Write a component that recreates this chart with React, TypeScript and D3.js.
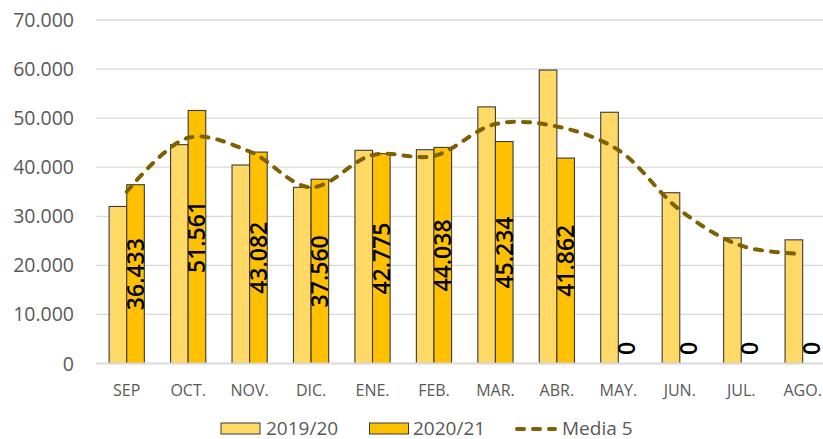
import React from "react";
import * as d3 from "d3";

const months = ["SEP", "OCT.", "NOV.", "DIC.", "ENE.", "FEB.", "MAR.", "ABR.", "MAY.", "JUN.", "JUL.", "AGO."];
const s2019 = [32000, 44600, 40450, 35900, 43450, 43570, 52300, 59800, 51200, 34800, 25600, 25200];
const s2020 = [36433, 51561, 43082, 37560, 42775, 44038, 45234, 41862, 0, 0, 0, 0];
const media5 = [35000, 46000, 43200, 35900, 42500, 42300, 48800, 48300, 43500, 31300, 24000, 22300];
const yTicks = [0, 10000, 20000, 30000, 40000, 50000, 60000, 70000];

const W = 823;
const H = 439;
const fmt = (v: number) => d3.format(",")(v).replace(/,/g, ".");

export default function App() {
  const x = d3.scaleBand<string>().domain(months).range([96, 96 + 12 * 61.45]).paddingInner(0).paddingOuter(0);
  const y = d3.scaleLinear().domain([0, 70000]).range([363.5, 20]);
  const barW = 17.6;
  const cx = (m: string) => (x(m) as number) + x.bandwidth() / 2;

  const line = d3
    .line<number>()
    .x((_, i) => cx(months[i]))
    .y((d) => y(d))
    .curve(d3.curveCatmullRom.alpha(0.5));

  const font = "'Open Sans', 'DejaVu Sans', sans-serif";

  return (
    <svg width={W} height={H} style={{ position: "absolute", left: 0, top: 0, background: "#fff" }}>
      {yTicks.map((t) => (
        <g key={t}>
          {t > 0 && <line x1={96} x2={W} y1={y(t)} y2={y(t)} stroke="#d9d9d9" strokeWidth={1.3} />}
          <text x={74} y={y(t)} dy="0.36em" textAnchor="end" fontFamily={font} fontSize={19.5} fill="#595959">
            {fmt(t)}
          </text>
        </g>
      ))}
      {months.map((m, i) => (
        <g key={m}>
          <rect
            x={cx(m) - barW}
            y={y(s2019[i])}
            width={barW}
            height={y(0) - y(s2019[i])}
            fill="#FFD966"
            stroke="#3a3a3a"
            strokeWidth={1.1}
          />
          {s2020[i] > 0 && (
            <rect
              x={cx(m)}
              y={y(s2020[i])}
              width={barW}
              height={y(0) - y(s2020[i])}
              fill="#FFC000"
              stroke="#3a3a3a"
              strokeWidth={1.1}
            />
          )}
        </g>
      ))}
      <line x1={96} x2={W} y1={y(0)} y2={y(0)} stroke="#d9d9d9" strokeWidth={2} />
      <path d={line(media5) || ""} fill="none" stroke="#7F6000" strokeWidth={4} strokeDasharray="7 9" strokeLinecap="round" />
      {months.map((m, i) => {
        const lx = cx(m) + barW / 2;
        const ly = s2020[i] > 0 ? (y(0) + y(s2020[i])) / 2 : y(0) - 15;
        return (
          <text
            key={"l" + m}
            transform={`translate(${lx},${ly}) rotate(-90)`}
            textAnchor="middle"
            dy="0.36em"
            fontFamily={font}
            fontSize={23}
            fontWeight={600}
            fill="#000"
          >
            {fmt(s2020[i])}
          </text>
        );
      })}
      {months.map((m) => (
        <text key={"x" + m} x={cx(m)} y={396} textAnchor="middle" fontFamily={font} fontSize={16} fill="#595959">
          {m}
        </text>
      ))}
      <g fontFamily={font} fontSize={19} fill="#595959">
        <rect x={221} y={423} width={39} height={11} fill="#FFD966" stroke="#3a3a3a" strokeWidth={1} />
        <text x={266} y={434.5}>2019/20</text>
        <rect x={369.5} y={423} width={39} height={11} fill="#FFC000" stroke="#3a3a3a" strokeWidth={1} />
        <text x={413} y={434.5}>2020/21</text>
        <line x1={517} x2={555} y1={429} y2={429} stroke="#7F6000" strokeWidth={4} strokeDasharray="7 9" strokeLinecap="round" />
        <text x={562} y={434.5}>Media 5</text>
      </g>
    </svg>
  );
}
